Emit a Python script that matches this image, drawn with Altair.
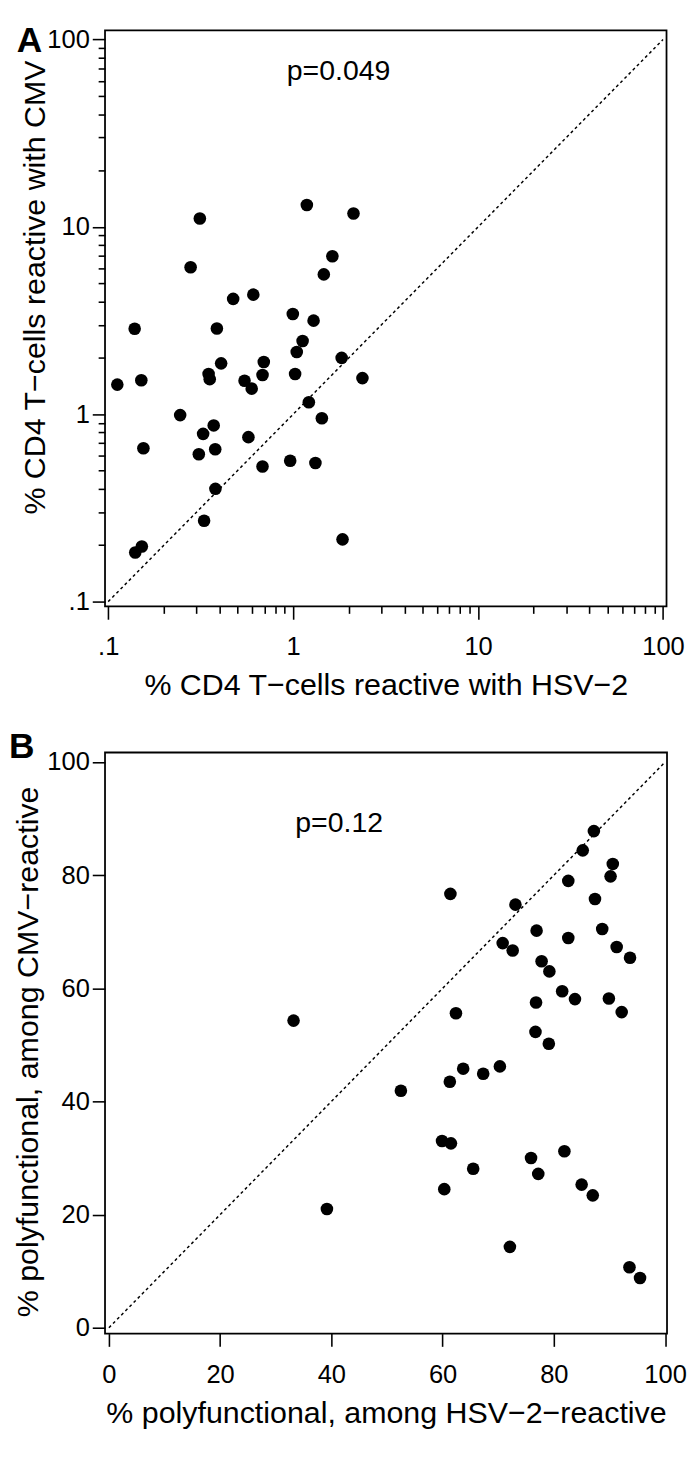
import json
import altair as alt
import pandas as pd

# ---------------- Panel A data (log-log) ----------------
a_hsv2 = [0.139, 0.279, 0.313, 0.387, 0.474, 0.609, 0.408, 0.694, 0.996, 1.29,
          1.125, 1.046, 1.186, 2.12, 1.63, 1.465, 1.83,
          0.112, 0.151, 0.245, 0.155, 0.349, 0.354, 0.546, 0.597, 0.683, 1.025,
          2.37, 1.216, 1.43, 0.372, 0.326, 0.573, 0.379, 0.309, 0.683, 0.964, 1.32,
          0.33, 0.38, 0.14, 0.152, 1.85]
a_cmv = [2.86, 6.09, 11.1, 2.87, 4.13, 4.35, 1.87, 1.90, 3.43, 3.16,
         2.46, 2.15, 13.1, 11.8, 6.98, 5.58, 2.0,
         1.44, 1.52, 0.99, 0.659, 1.64, 1.54, 1.51, 1.37, 1.62, 1.64,
         1.56, 1.16, 0.953, 0.872, 0.786, 0.755, 0.651, 0.612, 0.526, 0.565, 0.549,
         0.27, 0.40, 0.183, 0.197, 0.215]

# ---------------- Panel B data (linear) ----------------
b_hsv2 = [87.2, 85.2, 90.6, 90.2, 82.6, 87.4, 61.4, 73.1, 76.9, 88.7, 82.6, 91.3, 93.7,
          70.8, 72.6, 77.8, 79.2,
          33.2, 62.4, 81.5, 83.8, 76.8, 89.9, 92.2, 76.7, 79.1, 63.7, 61.3, 67.3, 70.3,
          52.5, 59.9, 61.5, 65.5, 75.9, 81.9, 77.2,
          72.1, 93.6, 95.5,
          39.2, 60.3, 85.0, 87.0]
b_cmv = [87.8, 84.4, 82.0, 79.8, 79.0, 75.8, 76.7, 74.8, 70.2, 70.5, 68.9, 67.3, 65.4,
         68.0, 66.7, 64.8, 63.0,
         54.3, 55.6, 59.5, 58.1, 57.5, 58.2, 55.8, 52.3, 50.2, 45.8, 43.5, 44.9, 46.2,
         41.9, 33.0, 32.6, 28.1, 30.0, 31.2, 27.2,
         14.3, 10.7, 8.8,
         21.0, 24.5, 25.3, 23.4]

# identity lines
diag_a = [0.1, 100]
diag_b = [0, 100]

# annotations
p_a_text, p_a_x, p_a_y = "p=0.049", 1.76, 68.0
p_b_text, p_b_x, p_b_y = "p=0.12", 41.4, 89.2

# axes
a_major = [0.1, 1, 10, 100]
a_major_labels = [".1", "1", "10", "100"]
a_minor = [0.2, 0.3, 0.4, 0.5, 0.6, 0.7, 0.8, 0.9,
           2, 3, 4, 5, 6, 7, 8, 9,
           20, 30, 40, 50, 60, 70, 80, 90]
b_ticks = [0, 20, 40, 60, 80, 100]

FONT = "Liberation Sans"
TICK_FS = 26
TITLE_FS = 31
P_FS = 29
TAG_FS = 36

label_expr = "''"
for v, l in reversed(list(zip(a_major, a_major_labels))):
    label_expr = f"datum.value == {v} ? '{l}' : {label_expr}"
major_test = f"indexof({json.dumps(a_major)}, datum.value) >= 0"
tick_size_a = {"condition": {"test": major_test, "value": 13}, "value": 7}

common_axis = dict(
    domain=False, grid=False, tickColor="black", tickWidth=1.6,
    labelFont=FONT, labelFontSize=TICK_FS, labelColor="black",
    labelFlush=False, labelOverlap=False, labelBound=False,
    titleFont=FONT, titleFontSize=TITLE_FS, titleFontWeight="normal",
    titleColor="black",
)

# ---------- Panel A ----------
xa_scale = alt.Scale(type="log", domain=[0.0961, 104.5], nice=False)
ya_scale = alt.Scale(type="log", domain=[0.0942, 112.1], nice=False)

axis_xa = alt.Axis(values=sorted(a_major + a_minor), labelExpr=label_expr,
                   tickSize=tick_size_a, labelPadding=15, titlePadding=12,
                   title="% CD4 T\u2212cells reactive with HSV\u22122", **common_axis)
axis_ya = alt.Axis(values=sorted(a_major + a_minor), labelExpr=label_expr,
                   tickSize=tick_size_a, labelPadding=3, titlePadding=-5, titleY=262,
                   title="% CD4 T\u2212cells reactive with CMV", **common_axis)

df_a = pd.DataFrame({"x": a_hsv2, "y": a_cmv})
df_da = pd.DataFrame({"x": diag_a, "y": diag_a})
df_pa = pd.DataFrame({"x": [p_a_x], "y": [p_a_y], "t": [p_a_text]})
df_tag_a = pd.DataFrame({"t": ["A"]})

pts_a = alt.Chart(df_a).mark_circle(size=165, color="black", opacity=1).encode(
    x=alt.X("x:Q", scale=xa_scale, axis=axis_xa),
    y=alt.Y("y:Q", scale=ya_scale, axis=axis_ya),
)
line_a = alt.Chart(df_da).mark_line(color="black", strokeDash=[3, 3], strokeWidth=1.5).encode(
    x=alt.X("x:Q", scale=xa_scale), y=alt.Y("y:Q", scale=ya_scale)
)
txt_a = alt.Chart(df_pa).mark_text(font=FONT, fontSize=P_FS, color="black",
                                   align="center", baseline="middle").encode(
    x=alt.X("x:Q", scale=xa_scale), y=alt.Y("y:Q", scale=ya_scale), text="t:N"
)
tag_a = alt.Chart(df_tag_a).mark_text(font=FONT, fontSize=TAG_FS, fontWeight="bold", color="black",
                                      align="left", baseline="alphabetic").encode(
    x=alt.value(-90), y=alt.value(22), text="t:N"
)
chart_a = alt.layer(pts_a, line_a, txt_a, tag_a).properties(width=573, height=588)

# ---------- Panel B ----------
xb_scale = alt.Scale(domain=[-0.7, 100.35], nice=False, zero=False)
yb_scale = alt.Scale(domain=[-1.04, 101.7], nice=False, zero=False)

axis_xb = alt.Axis(values=b_ticks, tickSize=13, labelPadding=16, titlePadding=12,
                   title="% polyfunctional, among HSV\u22122\u2212reactive", **common_axis)
axis_yb = alt.Axis(values=b_ticks, tickSize=13, labelPadding=3, titlePadding=3, titleY=305,
                   title="% polyfunctional, among CMV\u2212reactive", **common_axis)

df_b = pd.DataFrame({"x": b_hsv2, "y": b_cmv})
df_db = pd.DataFrame({"x": diag_b, "y": diag_b})
df_pb = pd.DataFrame({"x": [p_b_x], "y": [p_b_y], "t": [p_b_text]})
df_tag_b = pd.DataFrame({"t": ["B"]})

pts_b = alt.Chart(df_b).mark_circle(size=165, color="black", opacity=1).encode(
    x=alt.X("x:Q", scale=xb_scale, axis=axis_xb),
    y=alt.Y("y:Q", scale=yb_scale, axis=axis_yb),
)
line_b = alt.Chart(df_db).mark_line(color="black", strokeDash=[3, 3], strokeWidth=1.5).encode(
    x=alt.X("x:Q", scale=xb_scale), y=alt.Y("y:Q", scale=yb_scale)
)
txt_b = alt.Chart(df_pb).mark_text(font=FONT, fontSize=P_FS, color="black",
                                   align="center", baseline="middle").encode(
    x=alt.X("x:Q", scale=xb_scale), y=alt.Y("y:Q", scale=yb_scale), text="t:N"
)
tag_b = alt.Chart(df_tag_b).mark_text(font=FONT, fontSize=TAG_FS, fontWeight="bold", color="black",
                                      align="left", baseline="alphabetic").encode(
    x=alt.value(-98), y=alt.value(6), text="t:N"
)
chart_b = alt.layer(pts_b, line_b, txt_b, tag_b).properties(width=573.5, height=593)

chart = alt.concat(chart_a, chart_b, columns=1).properties(
    align="none", spacing=28, padding={"left": 0, "top": 0, "right": 4, "bottom": 4},
    background="white",
).configure_view(stroke="black", strokeWidth=1.8)

chart.save("out.html", embed_options={"renderer": "svg", "actions": False})
